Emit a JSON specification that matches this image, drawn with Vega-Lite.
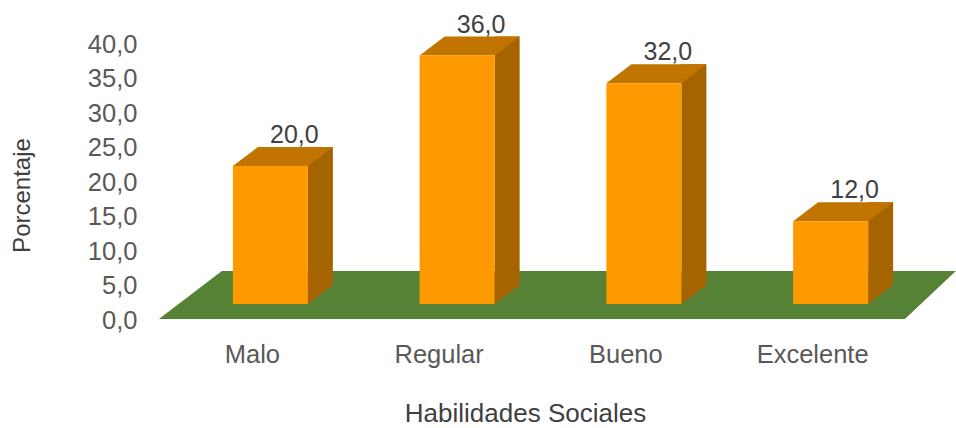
{
  "$schema": "https://vega.github.io/schema/vega-lite/v6.json",
  "width": 747,
  "height": 276,
  "autosize": {"type": "none"},
  "padding": {"left": 177, "top": 44, "right": 32, "bottom": 108},
  "background": "#ffffff",
  "config": {
    "view": {"stroke": null},
    "font": "Liberation Sans",
    "locale": {"number": {"decimal": ",", "thousands": ".", "grouping": [3], "currency": ["", " €"]}}
  },
  "data": {
    "values": [
      {"cat": "Malo", "pct": 20},
      {"cat": "Regular", "pct": 36},
      {"cat": "Bueno", "pct": 32},
      {"cat": "Excelente", "pct": 12}
    ]
  },
  "encoding": {
    "x": {
      "field": "cat",
      "type": "nominal",
      "sort": null,
      "scale": {"paddingInner": 0, "paddingOuter": 0},
      "axis": {
        "title": "Habilidades Sociales",
        "labelAngle": 0,
        "labelOffset": -18,
        "labelPadding": 42,
        "labelBaseline": "alphabetic",
        "labelFontSize": 25.5,
        "labelColor": "#595959",
        "ticks": false,
        "tickSize": 0,
        "domain": false,
        "titleFontSize": 26,
        "titleColor": "#404040",
        "titleFontWeight": "normal",
        "titleX": 348,
        "titleY": 101,
        "titleBaseline": "alphabetic",
        "titleAlign": "center"
      }
    },
    "y": {
      "field": "pct",
      "type": "quantitative",
      "scale": {"domain": [0, 40], "nice": false, "zero": true},
      "axis": {
        "title": "Porcentaje",
        "values": [0, 5, 10, 15, 20, 25, 30, 35, 40],
        "format": ".1f",
        "labelFontSize": 25.5,
        "labelColor": "#595959",
        "labelPadding": 40,
        "ticks": false,
        "tickSize": 0,
        "domain": false,
        "grid": false,
        "titleFontSize": 24,
        "titleColor": "#404040",
        "titleFontWeight": "normal",
        "titleX": -155,
        "titleY": 151,
        "titleAngle": -90,
        "titleBaseline": "middle",
        "titleAlign": "center"
      }
    }
  },
  "layer": [
    {
      "transform": [{"filter": "datum.cat === 'Malo'"}],
      "mark": {"type": "point", "shape": "M-111.5,-1L634.5,-1L685.5,-49L-48.5,-49Z", "size": 4, "filled": true, "opacity": 1, "color": "#568235", "strokeWidth": 0},
      "encoding": {"y": {"datum": 0}}
    },
    {
      "mark": {"type": "bar", "width": 25, "xOffset": 50, "yOffset": -35, "y2Offset": -16, "color": "#A66400"},
      "encoding": {"y2": {"datum": 0}}
    },
    {
      "mark": {"type": "point", "shape": "M-37.5,-16L37.5,-16L62.5,-35L-12.5,-35Z", "size": 4, "filled": true, "opacity": 1, "color": "#C27400", "strokeWidth": 0}
    },
    {
      "mark": {"type": "point", "shape": "M37.5,-16L62.5,-35L62.5,-16Z", "size": 4, "filled": true, "opacity": 1, "color": "#568235", "strokeWidth": 0},
      "encoding": {"y": {"datum": 0}}
    },
    {
      "mark": {"type": "bar", "width": 75, "yOffset": -16, "y2Offset": -16, "color": "#FF9900"},
      "encoding": {"y2": {"datum": 0}}
    },
    {
      "mark": {"type": "text", "dx": 24, "dy": -39, "baseline": "alphabetic", "align": "center", "fontSize": 25, "color": "#404040"},
      "encoding": {"text": {"field": "pct", "type": "quantitative", "format": ".1f"}}
    }
  ]
}
